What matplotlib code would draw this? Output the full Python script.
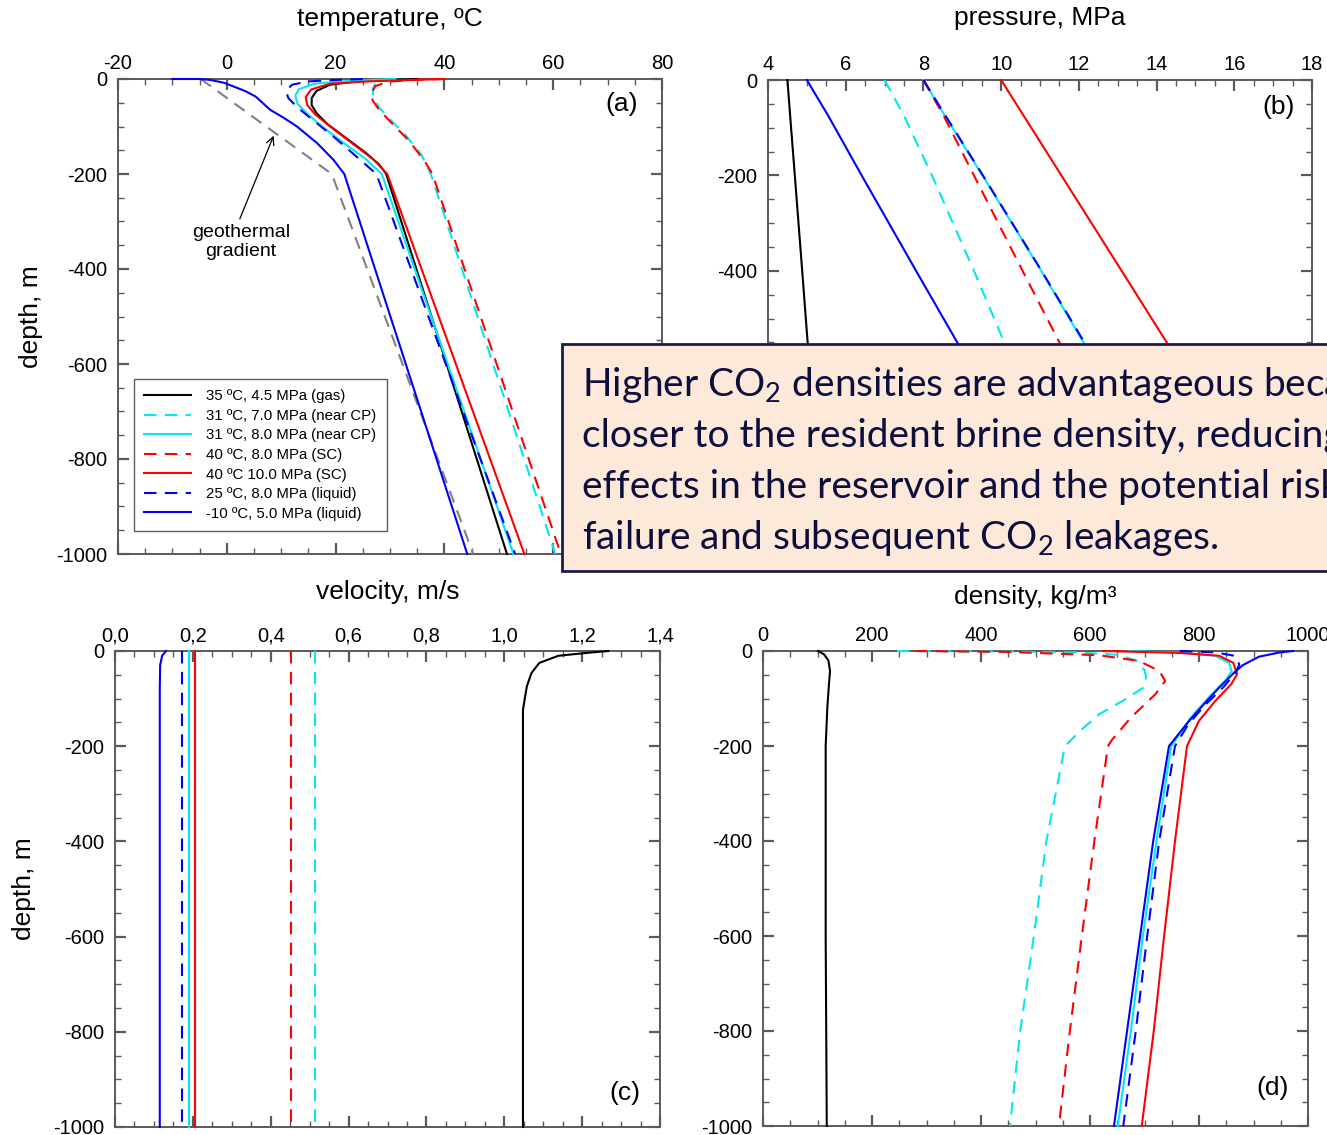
import matplotlib
matplotlib.use('Agg')
import matplotlib.pyplot as plt
from matplotlib.ticker import MultipleLocator, FuncFormatter
from matplotlib.patches import Rectangle

W, H, DPI = 1327, 1135, 100

plt.rcParams['font.family'] = ['Liberation Sans', 'DejaVu Sans']
plt.rcParams['axes.unicode_minus'] = False
plt.rcParams['mathtext.fontset'] = 'custom'
plt.rcParams['mathtext.rm'] = 'Lato'
plt.rcParams['mathtext.it'] = 'Lato:italic'

# ---------------- data ----------------
labels = ['35 ºC, 4.5 MPa (gas)', '31 ºC, 7.0 MPa (near CP)', '31 ºC, 8.0 MPa (near CP)',
          '40 ºC, 8.0 MPa (SC)', '40 ºC 10.0 MPa (SC)', '25 ºC, 8.0 MPa (liquid)',
          '-10 ºC, 5.0 MPa (liquid)']
colors = ['black', '#00e8f0', '#00e8f0', 'red', 'red', 'blue', 'blue']
dashed = [False, True, False, True, False, True, False]

# (a) temperature vs depth
T_gas = [35, 30, 24, 19, 16.5, 15.6, 15.6, 16.5, 18.5, 22, 25.5, 28, 29.3, 51.5]
zT_gas = [0, -2, -5, -12, -25, -40, -55, -72, -95, -125, -155, -180, -200, -1000]
T_cp7 = [31, 28.5, 27.3, 26.8, 27, 28, 30, 33, 35.8, 37.5, 60.4]
zT_cp7 = [0, -3, -10, -22, -40, -60, -85, -120, -160, -200, -1000]
T_cp8 = [31, 27, 21, 16, 13.2, 12.6, 13, 14.7, 17.5, 21.5, 25.5, 28.5, 52.7]
zT_cp8 = [0, -2, -5, -10, -22, -35, -52, -72, -100, -135, -168, -200, -1000]
T_sc8 = [40, 34, 29.5, 27.3, 26.6, 26.8, 28, 30.5, 33.5, 36.5, 37.8, 61.4]
zT_sc8 = [0, -2, -6, -15, -30, -45, -65, -95, -130, -175, -200, -1000]
T_sc10 = [40, 34, 26, 19, 15.5, 14.5, 14.8, 16.3, 19, 23, 27, 29.5, 54.7]
zT_sc10 = [0, -2, -5, -10, -22, -38, -55, -75, -100, -135, -170, -200, -1000]
T_l25 = [25, 20, 15, 12, 10.9, 11.3, 13, 16, 20, 24, 27.5, 53.0]
zT_l25 = [0, -2, -5, -12, -25, -40, -60, -88, -125, -165, -200, -1000]
T_lm10 = [-10, -5, -3, -0.5, 1.3, 3.5, 5.3, 8, 10.5, 12.9, 16.6, 19.6, 21.6, 44.2]
zT_lm10 = [0, 0, -2, -8, -16, -26, -37, -65, -82, -100, -135, -170, -200, -1000]
T_geo = [-4.8, 19.3, 45.3]
zT_geo = [0, -200, -1000]

# (b) pressure vs depth
zP = [0, -75, -200, -400, -550, -1000]
P_gas = [4.5, 4.57, 4.69, 4.88, 5.02, 5.45]
P_cp7 = [7.0, 7.5, 8.22, 9.3, 10.08, 12.1]
P_cp8 = [8.0, 8.55, 9.52, 11.03, 12.12, 15.1]
P_sc8 = [8.0, 8.52, 9.3, 10.55, 11.5, 14.1]
P_sc10 = [10.0, 10.58, 11.55, 13.1, 14.26, 17.7]
P_l25 = [8.0, 8.57, 9.53, 11.04, 12.14, 15.2]
P_lm10 = [5.0, 5.55, 6.41, 7.81, 8.87, 12.0]

# (c) velocity vs depth
v_gas = [1.267, 1.218, 1.139, 1.09, 1.07, 1.058, 1.048, 1.048]
zv_gas = [0, -3.5, -10, -25, -46, -74, -123, -1000]
v_cp7 = [0.514, 0.514]
v_cp8 = [0.189, 0.189]
v_sc8 = [0.452, 0.452]
v_sc10 = [0.205, 0.205]
v_l25 = [0.172, 0.172]
zv_const = [0, -1000]
v_lm10 = [0.131, 0.121, 0.116, 0.115, 0.115]
zv_lm10 = [0, -10, -30, -80, -1000]

# (d) density vs depth
rho_gas = [101, 112, 120, 123, 121, 118, 115, 115, 115, 116, 117]
zr_gas = [0, -7, -20, -42, -70, -120, -200, -400, -600, -800, -1000]
rho_cp7 = [246, 420, 580, 650, 685, 700, 703, 698, 660, 617, 585, 554, 520, 497, 472, 453]
zr_cp7 = [0, -1, -3, -8, -20, -40, -56, -77, -105, -133, -165, -200, -400, -600, -800, -1000]
rho_cp8 = [670, 760, 830, 855, 860, 850, 820, 785, 749, 722, 697, 675, 651]
zr_cp8 = [0, -3, -10, -25, -42, -60, -95, -140, -200, -400, -600, -800, -1000]
rho_sc8 = [279, 450, 617, 690, 727, 738, 720, 675, 639, 633, 608, 585, 563, 543]
zr_sc8 = [0, -2, -9, -21, -42, -63, -91, -140, -189, -200, -400, -600, -800, -1000]
rho_sc10 = [624, 763, 837, 863, 870, 859, 830, 800, 778, 756, 736, 717, 695]
zr_sc10 = [0, -4, -10, -25, -49, -70, -105, -147, -200, -400, -600, -800, -1000]
rho_l25 = [765, 830, 865, 874, 868, 844, 810, 780, 756, 727, 705, 684, 661]
zr_l25 = [0, -3, -10, -28, -45, -77, -115, -155, -200, -400, -600, -800, -1000]
rho_lm10 = [973, 948, 910, 880, 865, 837, 809, 782, 745, 716, 692, 668, 644]
zr_lm10 = [0, -3, -12, -30, -45, -77, -112, -147, -200, -400, -600, -800, -1000]

box_lines = ['Higher CO$_2$ densities are advantageous because',
             'closer to the resident brine density, reducing',
             'effects in the reservoir and the potential risk',
             'failure and subsequent CO$_2$ leakages.']

# ---------------- figure ----------------
fig = plt.figure(figsize=(W / DPI, H / DPI), dpi=DPI)


def px_axes(l, r, t, b):
    return fig.add_axes([l / W, 1 - b / H, (r - l) / W, (b - t) / H])


ax_a = px_axes(118, 662, 79, 554)
ax_b = px_axes(768, 1312, 80, 557)
ax_c = px_axes(115, 660, 651, 1127)
ax_d = px_axes(763, 1308, 651, 1126)

SPINE = '#5a5a5a'


def style(ax, xlim, xmaj, xmin, xlabel, ylabel=None, ylabelpad=10, xlabelpad=22,
          fmt=None, yfmt=None):
    ax.set_xlim(*xlim)
    ax.set_ylim(-1000, 0)
    ax.xaxis.set_major_locator(MultipleLocator(xmaj))
    ax.xaxis.set_minor_locator(MultipleLocator(xmin))
    ax.yaxis.set_major_locator(MultipleLocator(200))
    ax.yaxis.set_minor_locator(MultipleLocator(50))
    if fmt is not None:
        ax.xaxis.set_major_formatter(FuncFormatter(fmt))
    if yfmt is not None:
        ax.yaxis.set_major_formatter(FuncFormatter(yfmt))
    ax.tick_params(which='both', direction='in', top=True, bottom=True, left=True, right=True,
                   labeltop=True, labelbottom=False, colors=SPINE, labelcolor='black')
    ax.tick_params(which='major', length=8, width=1.6, labelsize=14.5)
    ax.tick_params(axis='x', which='major', pad=4)
    ax.tick_params(axis='y', which='major', pad=8)
    ax.tick_params(which='minor', length=4, width=1.0)
    for s in ax.spines.values():
        s.set_color(SPINE)
        s.set_linewidth(1.4)
    ax.xaxis.set_label_position('top')
    ax.set_xlabel(xlabel, fontsize=19, labelpad=xlabelpad)
    if ylabel:
        ax.set_ylabel(ylabel, fontsize=19, labelpad=ylabelpad)


def draw(ax, x, z, i, label=None):
    kw = dict(color=colors[i], lw=1.5, zorder=3, clip_on=False)
    if dashed[i]:
        kw['dashes'] = (6, 4)
    ax.plot(x, z, label=label, **kw)


# (a)
style(ax_a, (-20, 80), 20, 5, 'temperature, ºC', 'depth, m', ylabelpad=9, xlabelpad=20.5)
for i, (x, z) in enumerate([(T_gas, zT_gas), (T_cp7, zT_cp7), (T_cp8, zT_cp8), (T_sc8, zT_sc8),
                            (T_sc10, zT_sc10), (T_l25, zT_l25), (T_lm10, zT_lm10)]):
    draw(ax_a, x, z, i, labels[i])
ax_a.plot(T_geo, zT_geo, color='#808080', lw=1.5, dashes=(6, 4), zorder=2.8)
leg = ax_a.legend(loc='lower left', bbox_to_anchor=(0.029, 0.048), borderaxespad=0,
                  fontsize=10.8, frameon=True, fancybox=False, edgecolor='#333333',
                  handlelength=3.1, labelspacing=0.37, borderpad=0.7, handletextpad=1.0)
leg.get_frame().set_linewidth(1.0)
ax_a.annotate('', xy=(8.8, -114), xytext=(2.2, -300),
              arrowprops=dict(arrowstyle='->', color='black', lw=0.9, mutation_scale=14))
ax_a.text(2.6, -343, 'geothermal\ngradient', fontsize=14, ha='center', va='center',
          linespacing=1.2)
ax_a.text(72.6, -52, '(a)', fontsize=19, ha='center', va='center')

# (b)  tick labels under the overlay box are hidden in the reference
style(ax_b, (4, 18), 2, 0.5, 'pressure, MPa', xlabelpad=22,
      yfmt=lambda v, p: '' if v < -500 else f'{v:.0f}')
for i, x in enumerate([P_gas, P_cp7, P_cp8, P_sc8, P_sc10, P_l25, P_lm10]):
    draw(ax_b, x, zP, i)
ax_b.text(17.15, -57, '(b)', fontsize=19, ha='center', va='center')

# (c)
style(ax_c, (0, 1.4), 0.2, 0.05, 'velocity, m/s', 'depth, m', ylabelpad=12, xlabelpad=19.5,
      fmt=lambda v, p: f'{v:.1f}'.replace('.', ','))
for i, (x, z) in enumerate([(v_gas, zv_gas), (v_cp7, zv_const), (v_cp8, zv_const),
                            (v_sc8, zv_const), (v_sc10, zv_const), (v_l25, zv_const),
                            (v_lm10, zv_lm10)]):
    draw(ax_c, x, z, i)
ax_c.text(1.31, -928, '(c)', fontsize=19, ha='center', va='center')

# (d)
style(ax_d, (0, 1000), 200, 50, 'density, kg/m³', xlabelpad=16)
for i, (x, z) in enumerate([(rho_gas, zr_gas), (rho_cp7, zr_cp7), (rho_cp8, zr_cp8),
                            (rho_sc8, zr_sc8), (rho_sc10, zr_sc10), (rho_l25, zr_l25),
                            (rho_lm10, zr_lm10)]):
    draw(ax_d, x, z, i)
ax_d.text(935, -920, '(d)', fontsize=19, ha='center', va='center')

# overlay text box
box = Rectangle((562 / W, 1 - 571 / H), (W + 60 - 562) / W, 227 / H, transform=fig.transFigure,
                facecolor='#fde9d9', edgecolor='#1c1c4c', lw=2.0, zorder=10, clip_on=False)
fig.add_artist(box)
baselines = [396, 447, 498, 549]
texts = []
for line, yb in zip(box_lines, baselines):
    t = fig.text(582 / W, 1 - yb / H, line, fontsize=28, family=['Lato', 'DejaVu Sans'],
                 color='#0e0e3e', ha='left', va='baseline', zorder=11)
    texts.append(t)
fig.canvas.draw()
r = fig.canvas.get_renderer()
w4 = texts[3].get_window_extent(r).width
scale = 636 / w4
for t in texts:
    t.set_fontsize(28 * scale)

fig.savefig('out.png', dpi=DPI)
